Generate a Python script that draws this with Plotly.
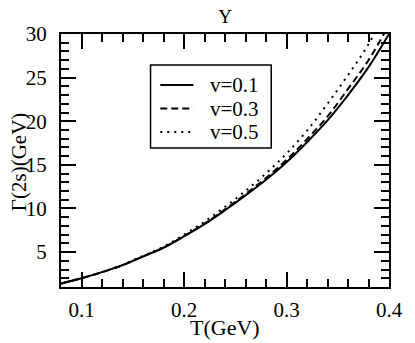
import plotly.graph_objects as go

T = [0.08, 0.10, 0.12, 0.14, 0.16, 0.18, 0.20, 0.22, 0.24, 0.26, 0.28, 0.30, 0.32, 0.34, 0.36, 0.38, 0.40]
gamma_v01 = [1.4, 2.0, 2.7, 3.5, 4.5, 5.5, 6.8, 8.2, 9.8, 11.5, 13.3, 15.3, 17.6, 20.1, 23.0, 26.2, 30.0]
gamma_v03 = [1.4, 2.0, 2.7, 3.5, 4.5, 5.52, 6.83, 8.26, 9.9, 11.64, 13.5, 15.57, 17.95, 20.55, 23.7, 27.0, 31.05]
gamma_v05 = [1.4, 2.0, 2.71, 3.54, 4.57, 5.61, 7.0, 8.49, 10.19, 12.02, 14.03, 16.29, 18.92, 22.0, 25.3, 28.82, 33.3]
labels = ["v=0.1", "v=0.3", "v=0.5"]
dashes = ["solid", "7px,4px", "2px,5px"]

FONT = "Liberation Serif"

# The page body has an 8px margin, so the figure is shrunk by that amount
OFF = 8
FIG_W, FIG_H = 415 - OFF, 343 - OFF
# plot area in window pixels
L, R, TOP, BOT = 61, 398, 34, 287
W, H = R - L, BOT - TOP


def px(x):
    return (x - L) / W


def py(y):
    return 1 - (y - TOP) / H


fig = go.Figure()
for ys, name, dash in zip([gamma_v01, gamma_v03, gamma_v05], labels, dashes):
    fig.add_trace(go.Scatter(x=T, y=ys, mode="lines", name=name, showlegend=False,
                             line=dict(color="black", width=2, dash=dash, shape="spline")))

axis_common = dict(showgrid=False, zeroline=False, showline=True, linecolor="black", linewidth=2,
                   mirror="allticks", ticks="inside", ticklen=15, tickwidth=1.5, tickcolor="black",
                   tickfont=dict(family=FONT, size=21, color="black"))

fig.update_xaxes(range=[0.08, 0.4], tick0=0.1, dtick=0.1, tickformat=".1f",
                 minor=dict(ticks="inside", ticklen=8, tickwidth=1.5, tickcolor="black", tick0=0, dtick=0.02),
                 ticklabelstandoff=3, **axis_common)
fig.update_yaxes(range=[1, 30], tick0=0, dtick=5,
                 minor=dict(ticks="inside", ticklen=8, tickwidth=1.5, tickcolor="black", tick0=0, dtick=1),
                 ticklabelstandoff=8, **axis_common)

shapes = [dict(type="rect", xref="paper", yref="paper", x0=px(153), x1=px(277), y0=py(148), y1=py(65),
               line=dict(color="black", width=1.5), fillcolor="white", layer="above")]
annotations = [
    dict(text="T(GeV)", xref="paper", yref="paper", x=0.5, y=py(327), xanchor="center",
         yanchor="middle", showarrow=False, font=dict(family=FONT, size=22, color="black")),
    dict(text="Γ(2s)(GeV)", xref="paper", yref="paper", x=px(18), y=py(162), xanchor="center",
         yanchor="middle", textangle=-90, showarrow=False, font=dict(family=FONT, size=21, color="black")),
]
for i, (name, dash) in enumerate(zip(labels, dashes)):
    yc = [85, 108.5, 132][i]
    shapes.append(dict(type="line", xref="paper", yref="paper", x0=px(163), x1=px(197), y0=py(yc), y1=py(yc),
                       line=dict(color="black", width=2, dash=dash), layer="above"))
    annotations.append(dict(text=name, xref="paper", yref="paper", x=px(212), y=py(yc), xanchor="left",
                            yanchor="middle", showarrow=False, font=dict(family=FONT, size=21, color="black")))

fig.update_layout(
    width=FIG_W, height=FIG_H,
    margin=dict(l=L - OFF, r=FIG_W - (R - OFF), t=TOP - OFF, b=FIG_H - (BOT - OFF)),
    paper_bgcolor="white", plot_bgcolor="white",
    title=dict(text="Y", x=0.5, xref="paper", y=1 - 2 / FIG_H, yref="container", yanchor="top",
               xanchor="center", pad=dict(t=0, b=0), font=dict(family=FONT, size=19, color="black")),
    shapes=shapes, annotations=annotations,
    showlegend=False,
)

fig.write_html("out.html")
